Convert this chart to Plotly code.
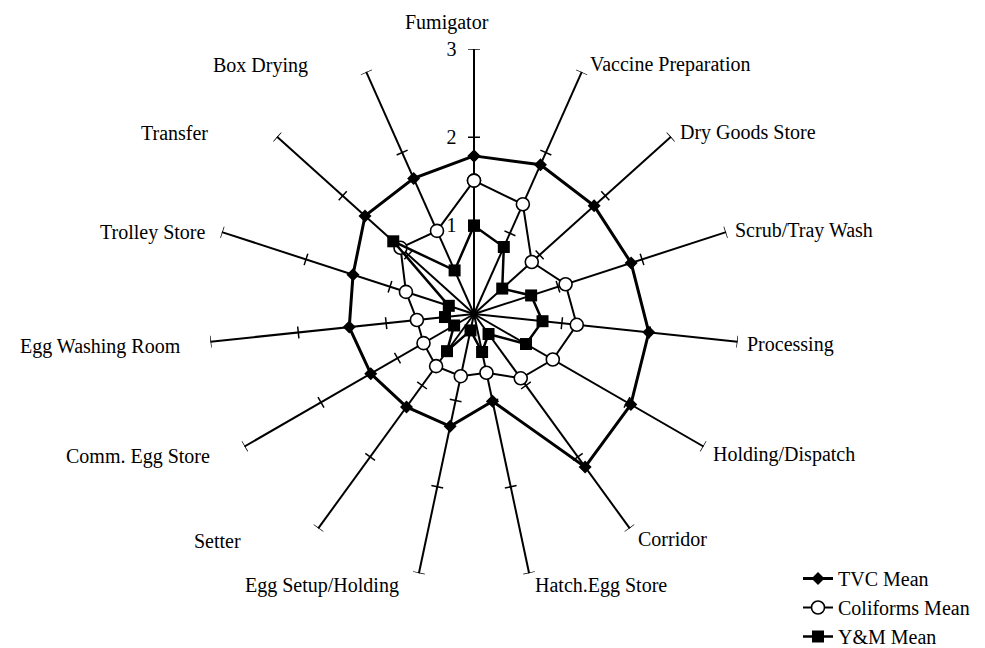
import math
import plotly.graph_objects as go

# Sampling areas around the spokes, clockwise from the top
categories = [
    "Fumigator", "Vaccine Preparation", "Dry Goods Store", "Scrub/Tray Wash",
    "Processing", "Holding/Dispatch", "Corridor", "Hatch.Egg Store",
    "Egg Setup/Holding", "Setter", "Comm. Egg Store", "Egg Washing Room",
    "Trolley Store", "Transfer", "Box Drying",
]

tvc_mean = [1.79, 1.85, 1.83, 1.87, 1.99, 2.05, 2.14, 1.01,
            1.30, 1.30, 1.35, 1.42, 1.44, 1.66, 1.68]
coliforms_mean = [1.51, 1.36, 0.88, 1.09, 1.17, 1.03, 0.90, 0.68,
                  0.72, 0.73, 0.66, 0.65, 0.81, 1.12, 1.03]
ym_mean = [1.00, 0.83, 0.43, 0.68, 0.78, 0.68, 0.28, 0.44,
           0.19, 0.52, 0.26, 0.33, 0.30, 1.23, 0.54]

radial_ticks = [1, 2, 3]

W, H = 985, 648
CX, CY, R = 474, 314, 265          # pixel centre and outer radius of the web
RMAX = 3
FONT = "Liberation Serif, Times New Roman, serif"

n = len(categories)
angles = [i * 360.0 / n for i in range(n)]


def closed(vals):
    return list(vals) + [vals[0]]


fig = go.Figure()

# Perpendicular tick marks on each spoke (the outer one acts as an end cap)
half = 6.0 / (R / RMAX)            # half tick length in data units
tr, tt = [], []
for a in angles:
    for r in radial_ticks:
        d = math.degrees(math.atan(half / r))
        rr = math.hypot(r, half)
        tr += [rr, rr, None]
        tt += [a - d, a + d, None]
fig.add_trace(go.Scatterpolar(
    r=tr, theta=tt, mode="lines", line=dict(color="black", width=1.5),
    showlegend=False, hoverinfo="skip"))

fig.add_trace(go.Scatterpolar(
    r=closed(tvc_mean), theta=closed(angles), name="TVC Mean",
    mode="lines+markers",
    line=dict(color="black", width=3),
    marker=dict(symbol="diamond", size=10, color="black")))

fig.add_trace(go.Scatterpolar(
    r=closed(coliforms_mean), theta=closed(angles), name="Coliforms Mean",
    mode="lines+markers",
    line=dict(color="black", width=2),
    marker=dict(symbol="circle", size=13, color="white",
                line=dict(color="black", width=1.6))))

fig.add_trace(go.Scatterpolar(
    r=closed(ym_mean), theta=closed(angles), name="Y&M Mean",
    mode="lines+markers",
    line=dict(color="black", width=2.5),
    marker=dict(symbol="square", size=12, color="black")))

# Spoke labels: (x, y, anchor) in pixels
label_pos = [
    (447, 22, "center"), (588, 64, "left"), (678, 132, "left"),
    (733, 231, "left"), (745, 344, "left"), (711, 454, "left"),
    (636, 539, "left"), (533, 585, "left"), (401, 585, "right"),
    (243, 541, "right"), (212, 456, "right"), (183, 346, "right"),
    (208, 232, "right"), (210, 133, "right"), (310, 65, "right"),
]
for name, (px, py, anc) in zip(categories, label_pos):
    fig.add_annotation(
        x=px / W, y=1 - py / H, xref="paper", yref="paper",
        text=name, showarrow=False, xanchor=anc, yanchor="middle",
        font=dict(family=FONT, size=20, color="black"))

fig.update_layout(
    width=W, height=H,
    margin=dict(l=0, r=0, t=0, b=0, autoexpand=False),
    paper_bgcolor="white", plot_bgcolor="white",
    font=dict(family=FONT, size=20, color="black"),
    polar=dict(
        domain=dict(x=[(CX - R) / W, (CX + R) / W],
                    y=[1 - (CY + R) / H, 1 - (CY - R) / H]),
        bgcolor="white",
        angularaxis=dict(
            type="linear", thetaunit="degrees", rotation=90,
            direction="clockwise", tickvals=angles, ticktext=categories,
            showticklabels=False, ticks="", showline=False,
            showgrid=True, gridcolor="black", gridwidth=1.5),
        radialaxis=dict(
            range=[0, RMAX], angle=90, tickangle=90, side="counterclockwise",
            tickvals=radial_ticks, ticks="outside", ticklen=10,
            tickcolor="rgba(0,0,0,0)", showline=False, showgrid=False,
            tickfont=dict(family=FONT, size=20, color="black")),
    ),
    legend=dict(
        x=798 / W, y=-8 / H, xanchor="left", yanchor="bottom",
        bgcolor="rgba(0,0,0,0)", tracegroupgap=0,
        font=dict(family=FONT, size=20, color="black")),
)

fig.write_html("out.html")
